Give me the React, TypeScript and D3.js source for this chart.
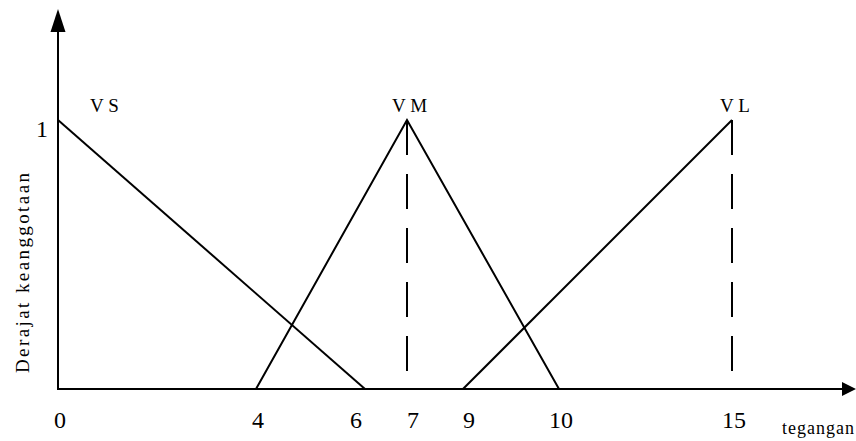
import React from "react";
import * as d3 from "d3";

// ---- data ----
const setNames = ["V S", "V M", "V L"];
const vsPoints: [number, number][] = [[0, 1], [6, 0]];
const vmPoints: [number, number][] = [[4, 0], [7, 1], [10, 0]];
const vlPoints: [number, number][] = [[9, 0], [15, 1]];
const dashedAt = [7, 15];
const xTickLabels = [0, 4, 6, 7, 9, 10, 15];
const yTickLabels = [1];
const xTitle = "tegangan";
const yTitle = "Derajat keanggotaan";

const W = 856;
const H = 441;

export default function App() {
  // hand-drawn (piecewise) horizontal scale, as in the original sketch
  const x = d3
    .scaleLinear()
    .domain(xTickLabels)
    .range([58, 256, 365, 407, 463, 559, 732]);
  const y = d3.scaleLinear().domain([0, 1]).range([389, 120]);

  const line = d3
    .line<[number, number]>()
    .x((d) => x(d[0]))
    .y((d) => y(d[1]));

  const x0 = x(0);
  const y0 = y(0);
  const font = '"Liberation Serif", "Times New Roman", serif';
  const sets = [vsPoints, vmPoints, vlPoints];
  const labelStarts = [90, 392, 720];

  return (
    <svg
      width={W}
      height={H}
      style={{ position: "absolute", left: 0, top: 0, background: "#fff", fontFamily: font }}
    >
      <rect width={W} height={H} fill="#fff" />
      {/* axes */}
      <line x1={x0} y1={y0} x2={x0} y2={30} stroke="#000" strokeWidth={2} />
      <path d={`M${x0},9 L${x0 - 7.5},32 L${x0 + 7.5},32 Z`} fill="#000" />
      <line x1={x0 - 1} y1={y0} x2={843} y2={y0} stroke="#000" strokeWidth={2} />
      <path d={`M856,${y0} L842,${y0 - 7} L842,${y0 + 7} Z`} fill="#000" />

      {/* dashed verticals */}
      {dashedAt.map((v) => (
        <line
          key={v}
          x1={x(v)}
          x2={x(v)}
          y1={y(1)}
          y2={373}
          stroke="#000"
          strokeWidth={2}
          strokeDasharray="35 19"
        />
      ))}

      {/* membership functions */}
      {sets.map((pts, i) => (
        <path
          key={i}
          d={line(pts) || ""}
          fill="none"
          stroke="#000"
          strokeWidth={2}
          strokeLinejoin="miter"
        />
      ))}

      {/* set labels */}
      {setNames.map((n, i) => (
        <text key={n} x={labelStarts[i]} y={112} fontSize={19} fill="#000" style={{ fontFamily: font }}>
          {n}
        </text>
      ))}

      {/* x tick labels */}
      {xTickLabels.map((v) => (
        <text
          key={v}
          x={x(v) + (v === 0 ? 2 : v === 6 ? -9 : v === 7 || v === 9 ? 6 : 2)}
          y={428}
          fontSize={24}
          textAnchor="middle"
          fill="#000"
          style={{ fontFamily: font }}
        >
          {v}
        </text>
      ))}

      {/* y tick label */}
      {yTickLabels.map((v) => (
        <text key={v} x={48} y={y(v) + 17} fontSize={24} textAnchor="end" fill="#000" style={{ fontFamily: font }}>
          {v}
        </text>
      ))}

      {/* axis titles */}
      <text x={782} y={434} fontSize={18} textLength={72} lengthAdjust="spacing" fill="#000" style={{ fontFamily: font }}>
        {xTitle}
      </text>
      <text
        transform={`translate(29,373) rotate(-90)`}
        fontSize={19}
        textLength={200}
        lengthAdjust="spacing"
        fill="#000"
        style={{ fontFamily: font }}
      >
        {yTitle}
      </text>
    </svg>
  );
}
